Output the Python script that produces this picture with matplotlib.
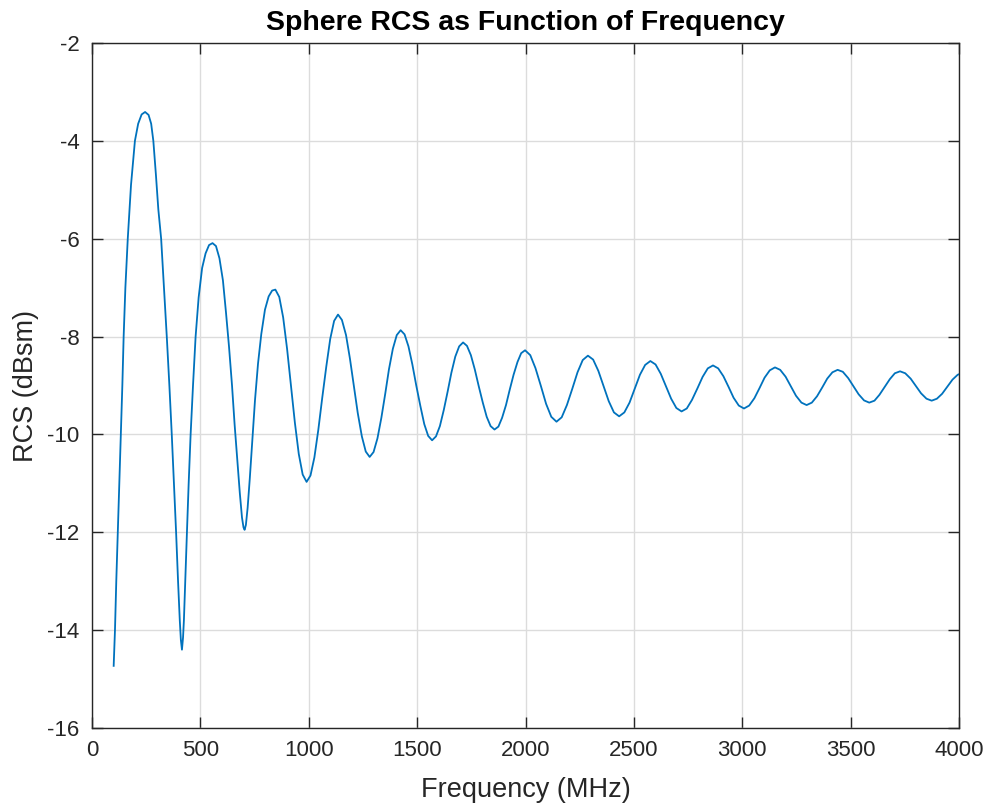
import matplotlib
matplotlib.use("Agg")
import matplotlib.pyplot as plt
from matplotlib.ticker import FixedLocator

plt.rcParams['font.family'] = ['Liberation Sans', 'DejaVu Sans']

# Frequency (MHz)
freq_mhz = [
    100, 106, 112, 119, 126, 133, 140, 146, 154, 165, 180, 198, 213, 229, 245,
    261, 273, 283, 295, 306, 319, 332, 345, 357, 368, 378, 388, 397, 405, 410, 415,
    420, 424, 430, 438, 446, 455, 466, 478, 492, 508, 524, 540, 556,
    572, 588, 604, 618, 632, 646, 658, 670, 682, 692, 699, 704,
    710, 718, 728, 740, 752, 766, 781, 798, 815, 831, 846,
    864, 882, 900, 918, 936, 954, 972, 990,
    1008, 1026, 1044, 1062, 1081, 1099, 1117, 1135,
    1153, 1172, 1190, 1208, 1226, 1245, 1263, 1281,
    1299, 1317, 1335, 1353, 1370, 1388, 1406, 1424,
    1442, 1460, 1478, 1496, 1515, 1533, 1551, 1569,
    1587, 1605, 1623, 1641, 1658, 1676, 1694, 1712,
    1730, 1748, 1766, 1784, 1803, 1821, 1839, 1857,
    1875, 1892, 1910, 1927, 1945, 1963, 1980, 1998,
    2022, 2046, 2071, 2095, 2119, 2143,
    2167, 2191, 2216, 2240, 2264, 2288,
    2312, 2336, 2360, 2384, 2408, 2432,
    2456, 2480, 2504, 2528, 2552, 2576,
    2600, 2624, 2648, 2672, 2696, 2720,
    2744, 2768, 2793, 2817, 2841, 2865,
    2889, 2913, 2937, 2960, 2984, 3008,
    3032, 3056, 3080, 3103, 3127, 3151,
    3175, 3200, 3224, 3248, 3273, 3297,
    3321, 3345, 3369, 3392, 3416, 3440,
    3464, 3489, 3513, 3537, 3562, 3586,
    3610, 3633, 3657, 3681, 3704, 3728,
    3752, 3777, 3801, 3825, 3850, 3874,
    3898, 3922, 3946, 3970, 3994, 4000,
]

# RCS (dBsm)
rcs_dbsm = [
    -14.73, -14.0, -13.0, -12.0, -11.0, -10.0, -9.0, -8.0, -7.0, -6.0, -4.9, -4.0, -3.65, -3.46, -3.41,
    -3.47, -3.65, -4.0, -4.7, -5.4, -6.0, -7.0, -8.0, -9.0, -10.0, -11.0, -12.0, -13.0, -13.8, -14.2, -14.4,
    -14.15, -13.8, -13.0, -12.0, -11.0, -10.0, -9.0, -8.0, -7.2, -6.6, -6.3, -6.13, -6.09,
    -6.15, -6.4, -6.85, -7.5, -8.2, -9.0, -9.8, -10.5, -11.2, -11.7, -11.9, -11.95,
    -11.85, -11.5, -10.9, -10.1, -9.3, -8.55, -7.95, -7.45, -7.18, -7.06, -7.04,
    -7.19, -7.61, -8.25, -9.0, -9.76, -10.40, -10.82, -10.97,
    -10.84, -10.47, -9.91, -9.26, -8.61, -8.05, -7.68, -7.55,
    -7.66, -7.97, -8.45, -9.0, -9.56, -10.04, -10.35, -10.46,
    -10.36, -10.08, -9.66, -9.165, -8.67, -8.25, -7.97, -7.87,
    -7.955, -8.20, -8.57, -9.0, -9.42, -9.79, -10.03, -10.12,
    -10.04, -9.83, -9.50, -9.12, -8.74, -8.41, -8.20, -8.12,
    -8.19, -8.38, -8.67, -9.01, -9.35, -9.64, -9.83, -9.90,
    -9.84, -9.66, -9.40, -9.09, -8.78, -8.52, -8.34, -8.28,
    -8.38, -8.645, -9.01, -9.375, -9.64, -9.74,
    -9.65, -9.40, -9.065, -8.73, -8.48, -8.39,
    -8.47, -8.70, -9.01, -9.32, -9.55, -9.63,
    -9.55, -9.35, -9.065, -8.78, -8.58, -8.50,
    -8.57, -8.76, -9.015, -9.27, -9.46, -9.53,
    -9.47, -9.295, -9.06, -8.825, -8.65, -8.59,
    -8.65, -8.81, -9.03, -9.25, -9.41, -9.47,
    -9.41, -9.26, -9.05, -8.84, -8.69, -8.63,
    -8.68, -8.82, -9.015, -9.21, -9.35, -9.40,
    -9.35, -9.22, -9.04, -8.86, -8.73, -8.68,
    -8.72, -8.85, -9.015, -9.18, -9.305, -9.35,
    -9.31, -9.19, -9.03, -8.87, -8.75, -8.71,
    -8.75, -8.86, -9.01, -9.16, -9.27, -9.31,
    -9.27, -9.17, -9.025, -8.88, -8.78, -8.77,
]

x_ticks = [0, 500, 1000, 1500, 2000, 2500, 3000, 3500, 4000]
y_ticks = [-16, -14, -12, -10, -8, -6, -4, -2]

fig = plt.figure(figsize=(9.91, 8.07), dpi=100)
ax = fig.add_axes([92 / 991, 1 - 728 / 807, (959 - 92) / 991, (728 - 43) / 807])

ax.plot(freq_mhz, rcs_dbsm, color='#0072BD', linewidth=1.3)

ax.set_xlim(0, 4000)
ax.set_ylim(-16, -2)
ax.xaxis.set_major_locator(FixedLocator(x_ticks))
ax.yaxis.set_major_locator(FixedLocator(y_ticks))
ax.set_xticklabels([str(t) for t in x_ticks])
ax.set_yticklabels([str(t) for t in y_ticks])

ax.grid(True, color='#dcdcdc', linewidth=1.0)
ax.set_axisbelow(True)
for s in ax.spines.values():
    s.set_color('#262626')
    s.set_linewidth(1.0)
ax.tick_params(axis='both', direction='in', length=8, width=1.0, color='#262626',
               top=True, right=True, labelsize=16, labelcolor='#262626')
ax.tick_params(axis='x', pad=9)
ax.tick_params(axis='y', pad=9)

ax.set_xlabel('Frequency (MHz)', fontsize=19.5, color='#262626', labelpad=11)
ax.set_ylabel('RCS (dBsm)', fontsize=19.5, color='#262626', labelpad=6)
ax.set_title('Sphere RCS as Function of Frequency', fontsize=20.5, fontweight='bold',
             color='black', pad=9)

fig.savefig('out.png', dpi=100)
